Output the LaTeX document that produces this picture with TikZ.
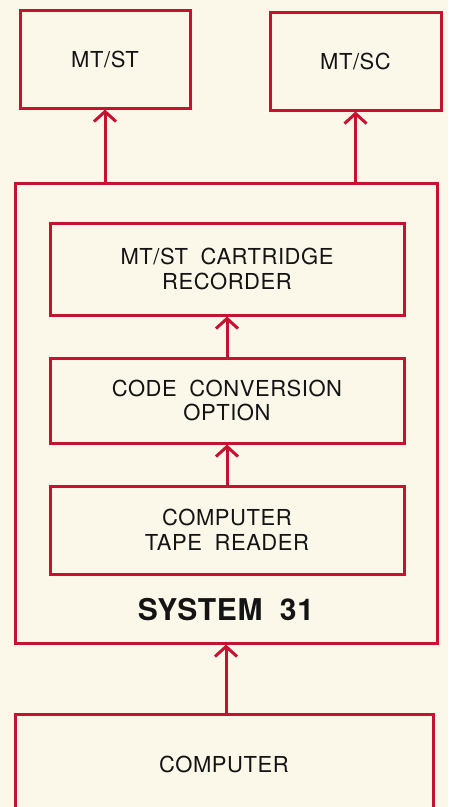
\documentclass[tikz,border=0pt]{standalone}
\usepackage{fontspec}
\setsansfont{TeX Gyre Heros}[LetterSpace=2.5,WordSpace=1.9]
\usetikzlibrary{arrows.meta,positioning}
\definecolor{inkred}{HTML}{C41230}
\definecolor{paper}{HTML}{FBF8EA}
\definecolor{inktext}{HTML}{141414}

\begin{document}
\begin{tikzpicture}[x=1pt,y=-1pt,font=\sffamily\fontsize{22}{24.5}\selectfont,text=inktext,
>={Straight Barb[length=10pt,width=22pt]},node distance=40pt,
box/.style={draw=inkred,line width=3pt,minimum width=354pt,align=center},
arr/.style={->,line width=3pt,inkred}]
\fill[paper] (0,0) rectangle (448,807);
\useasboundingbox (0,0) rectangle (448,807);
% outputs
\node[box,minimum width=170pt,minimum height=98pt] (st) at (105,59) {MT/ST};
\node[box,minimum width=171pt,minimum height=98pt] (sc) at (355.5,61) {MT/SC};
% system 31
\node[box,minimum width=422pt,minimum height=460pt] (sys) at (226,413) {};
\node[box,minimum height=92pt] (rec) at (227,269) {MT/ST CARTRIDGE\\RECORDER};
\node[box,minimum height=85pt,below=of rec] (conv) {CODE CONVERSION\\OPTION};
\node[box,minimum height=88pt,below=of conv] (read) {COMPUTER\\TAPE READER};
\node[font=\sffamily\bfseries\fontsize{30}{34}\selectfont,above=20pt of sys.south] (name) {SYSTEM 31};
% input
\node[box,minimum width=418pt,minimum height=100pt] (comp) at (224,764) {COMPUTER};
\draw[arr] (st.south |- sys.north) -- (st.south);
\draw[arr] (sc.south |- sys.north) -- (sc.south);
\draw[arr] (conv) -- (rec);
\draw[arr] (read) -- (conv);
\draw[arr] (comp.north -| sys.south) -- (sys.south);
\end{tikzpicture}
\end{document}
